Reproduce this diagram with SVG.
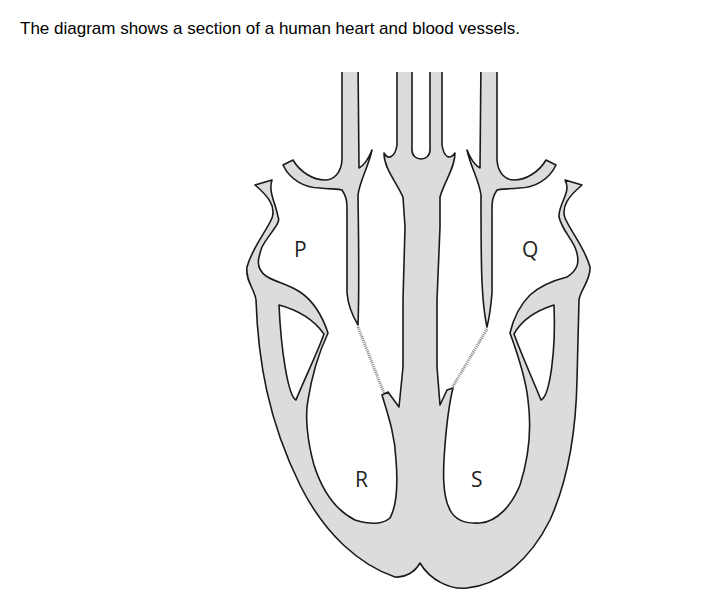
<svg xmlns="http://www.w3.org/2000/svg" width="712" height="600" viewBox="0 0 712 600">
<style>
.t{fill:#dcdcde;stroke:#1a1a1a;stroke-width:1.6;stroke-linejoin:round}
.h{fill:#fff;stroke:#1a1a1a;stroke-width:1.6;stroke-linejoin:round}
.v{fill:none;stroke:#888;stroke-width:3;stroke-dasharray:1 1}
</style>
<rect width="712" height="600" fill="#fff"/>
<text x="20" y="34" font-family="Liberation Sans, Arial, sans-serif" font-size="17" fill="#000">The diagram shows a section of a human heart and blood vessels.</text>
<g id="heart">
<path class="t" d="M255,185 C268,196 276,206 272,218 C266,232 252,248 247,267 C245,280 255,290 256,300 C258,360 268,420 300,485 C325,535 360,565 395,577 C405,578 415,572 420,563 C430,580 450,590 467,588 C500,585 530,560 550,520 C568,480 576,430 577,380 L579,300 C580,290 591,280 590,267 C585,248 571,232 565,218 C561,206 569,196 582,185 L565,180 C572,192 558,204 559,217 C562,230 573,240 576,250 C580,262 578,270 567,277 C555,280 540,286 530,295 C520,305 513,320 510,333 C518,355 526,380 528,400 C532,430 528,460 520,485 C512,505 497,522 480,523 C465,524 455,520 450,510 C442,495 443,470 445,445 C447,420 450,400 453,388 L447,390 L440,405 L437,367 L437,300 L440,227 L440,197 C445,180 455,168 455,153 C450,160 444,158 442,145 L442,60 L430,60 L430,150 C430,162 412,162 412,150 L412,60 L397,60 L397,145 C395,158 388,160 384,153 C384,168 395,180 403,197 L405,227 L403,300 L403,367 L399,407 L388,392 L382,395 C388,415 395,435 396,460 C398,485 397,505 390,518 C382,525 368,524 355,520 C335,510 322,490 314,465 C307,440 305,415 308,400 C312,375 320,350 328,333 C322,315 312,300 300,292 C288,284 275,282 266,276 C255,268 258,258 262,247 C268,235 282,222 278,217 C276,204 268,192 272,180 Z"/>
<path class="h" d="M279,305 C298,310 314,320 324,334 C316,356 304,380 296,400 C288,396 281,350 279,305 Z"/>
<path class="h" d="M554,305 C535,311 521,321 514,334 C522,356 533,380 541,400 C550,396 556,350 554,305 Z"/>
</g>
<g id="vessel-left">
<path class="t" d="M342,60 L342,160 C341,174 333,180 325,180 C313,180 300,172 293,160 L283,165 C290,180 305,188 320,188 C330,189 340,189 342,190 C346,196 347,200 347,210 L347,293 C348,305 352,315 358,325 C359,300 359,260 358,195 C360,180 368,168 372,150 C368,160 363,166 359,168 L358,60 Z"/>
</g>
<g id="vessel-right">
<path class="t" d="M497,60 L497,160 C498,174 506,180 514,180 C526,180 539,172 546,160 L556,165 C549,180 534,188 519,188 C509,189 499,189 497,190 C493,196 492,200 492,210 L492,293 C491,305 490,315 487,327 C481,300 481,260 481,195 C479,180 471,168 467,150 C471,160 476,166 480,168 L481,60 Z"/>
</g>
<rect x="330" y="50" width="180" height="22" fill="#fff"/>
<g id="valves">
<path class="v" d="M358,327 L384,393"/>
<path class="v" d="M487,329 L452,388"/>
</g>
<g id="labels" font-family="Open Sans, Liberation Sans, sans-serif" font-size="21" fill="#222">
<text x="294" y="257">P</text>
<text x="522" y="257">Q</text>
<text x="355" y="487">R</text>
<text x="471" y="487">S</text>
</g>
</svg>
